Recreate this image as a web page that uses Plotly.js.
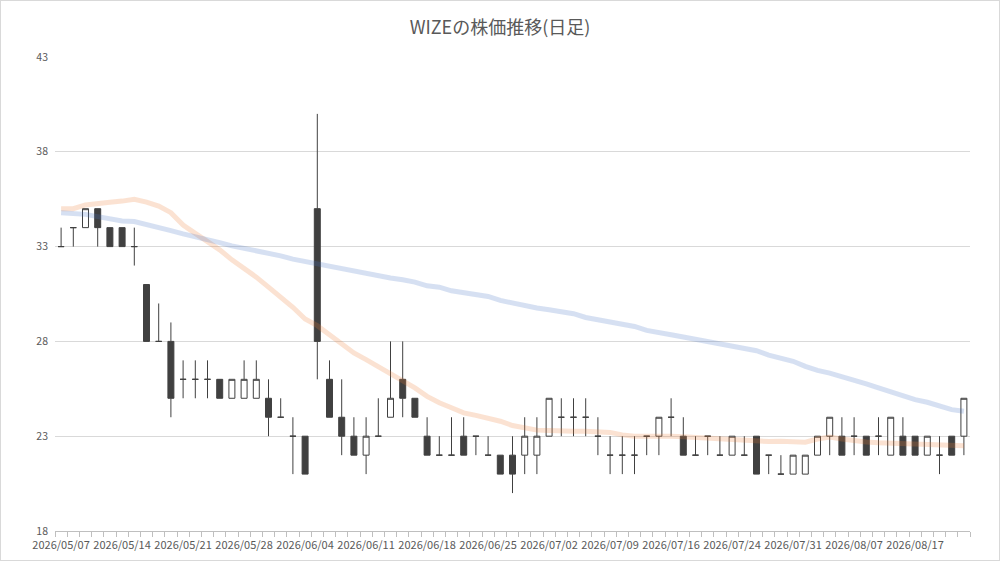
<!DOCTYPE html>
<html>
<head>
<meta charset="utf-8">
<script src="https://cdn.plot.ly/plotly-3.0.1.min.js"></script>
<style>
  html, body { margin: 0; padding: 0; background: #fff; }
  #chart { width: 998px; height: 559px; border: 1px solid #d9d9d9; }
</style>
</head>
<body>
<div id="chart"></div>
<script>
// trading days (category axis)
var dates = [
  '2026/05/07','2026/05/08','2026/05/11','2026/05/12','2026/05/13',
  '2026/05/14','2026/05/15','2026/05/18','2026/05/19','2026/05/20',
  '2026/05/21','2026/05/22','2026/05/25','2026/05/26','2026/05/27',
  '2026/05/28','2026/05/29','2026/06/01','2026/06/02','2026/06/03',
  '2026/06/04','2026/06/05','2026/06/08','2026/06/09','2026/06/10',
  '2026/06/11','2026/06/12','2026/06/15','2026/06/16','2026/06/17',
  '2026/06/18','2026/06/19','2026/06/22','2026/06/23','2026/06/24',
  '2026/06/25','2026/06/26','2026/06/29','2026/06/30','2026/07/01',
  '2026/07/02','2026/07/03','2026/07/06','2026/07/07','2026/07/08',
  '2026/07/09','2026/07/10','2026/07/13','2026/07/14','2026/07/15',
  '2026/07/16','2026/07/17','2026/07/21','2026/07/22','2026/07/23',
  '2026/07/24','2026/07/27','2026/07/28','2026/07/29','2026/07/30',
  '2026/07/31','2026/08/03','2026/08/04','2026/08/05','2026/08/06',
  '2026/08/07','2026/08/10','2026/08/12','2026/08/13','2026/08/14',
  '2026/08/17','2026/08/18','2026/08/19','2026/08/20','2026/08/21'
];

var open = [
  33,34,34,35,34, 34,33,31,28,28, 26,26,26,26,25, 25,25,25,24,23,
  23,35,26,24,23, 22,23,24,26,25, 23,22,22,23,23, 22,22,22,22,22,
  23,24,24,24,23, 22,22,22,23,23, 24,23,22,23,22, 22,22,23,22,21,
  21,21,22,23,23, 23,23,23,22,23, 23,22,22,23,23
];
var high = [
  34,34,35,35,34, 34,34,31,30,29, 27,27,27,26,26, 27,27,26,25,24,
  23,40,27,26,24, 24,25,28,28,25, 24,23,24,24,23, 23,22,23,24,24,
  25,25,25,25,24, 23,23,23,23,24, 25,24,23,23,23, 23,23,23,22,22,
  22,22,23,24,24, 24,23,24,24,24, 23,23,23,23,25
];
var low = [
  33,33,34,33,33, 33,32,28,28,24, 25,25,25,25,25, 25,25,23,24,21,
  21,26,24,22,22, 21,23,24,24,24, 22,22,22,22,22, 22,21,20,21,21,
  23,23,23,23,22, 21,21,21,22,22, 23,22,22,22,22, 22,22,21,21,21,
  21,21,22,22,22, 22,22,22,22,22, 22,22,21,22,22
];
var close = [
  33,34,35,34,33, 33,33,28,28,25, 26,26,26,25,26, 26,26,24,24,23,
  21,28,24,23,22, 23,23,25,25,24, 22,22,22,22,23, 22,21,21,23,23,
  25,24,24,24,23, 22,22,22,23,24, 24,22,22,23,22, 23,22,21,22,21,
  22,22,23,24,22, 23,22,23,24,22, 22,23,22,22,25
];

// moving averages
var maShort = [
  35.0,35.0,35.2,35.3,35.34, 35.4,35.5,35.35,35.14,34.79,
  34.14,33.7,33.3,32.83,32.3, 31.86,31.39,30.86,30.37,29.8,
  29.18,28.83,28.35,27.88,27.39, 27.04,26.68,26.3,25.9,25.55,
  25.1,24.76,24.5,24.23,24.1, 23.97,23.79,23.56,23.44,23.32,
  23.3,23.26,23.26,23.26,23.26, 23.2,23.07,23.0,23.0,23.02,
  23.0,22.97,22.93,22.88,22.83, 22.8,22.8,22.75,22.72,22.74,
  22.7,22.68,22.85,22.95,22.85, 22.75,22.7,22.65,22.62,22.6,
  22.58,22.56,22.55,22.52,22.5
];
var maLong = [
  34.79,34.75,34.7,34.58,34.44, 34.35,34.32,34.14,34.0,33.84,
  33.67,33.53,33.39,33.21,33.04, 32.91,32.83,32.68,32.51,32.34,
  32.21,32.12,31.95,31.83,31.72, 31.55,31.46,31.34,31.25,31.13,
  30.93,30.86,30.67,30.55,30.46, 30.37,30.16,30.02,29.88,29.76,
  29.67,29.58,29.46,29.26,29.14, 29.02,28.91,28.79,28.58,28.44,
  28.35,28.23,28.12,27.97,27.86, 27.77,27.65,27.51,27.28,27.12,
  26.95,26.68,26.47,26.33,26.16, 25.98,25.76,25.55,25.32,25.11,
  24.93,24.79,24.58,24.4,24.32
];

var yTicks = [18, 23, 28, 33, 38, 43];

var tickText = dates.map(function (d, i) { return i % 5 === 0 ? d : ''; });

var candles = {
  type: 'candlestick',
  x: dates,
  open: open,
  high: high,
  low: low,
  close: close,
  increasing: { line: { color: '#404040', width: 1 }, fillcolor: '#ffffff' },
  decreasing: { line: { color: '#404040', width: 1 }, fillcolor: '#404040' },
  whiskerwidth: 0,
  hoverinfo: 'skip',
  showlegend: false
};

var lineShort = {
  type: 'scatter',
  mode: 'lines',
  x: dates,
  y: maShort,
  line: { color: 'rgba(237,125,49,0.22)', width: 5 },
  hoverinfo: 'skip',
  showlegend: false
};

var lineLong = {
  type: 'scatter',
  mode: 'lines',
  x: dates,
  y: maLong,
  line: { color: 'rgba(68,114,196,0.22)', width: 5 },
  hoverinfo: 'skip',
  showlegend: false
};

var layout = {
  width: 998,
  height: 559,
  margin: { l: 54, r: 29, t: 56, b: 29 },
  paper_bgcolor: '#ffffff',
  plot_bgcolor: '#ffffff',
  font: { family: '"Noto Sans CJK JP", "Noto Sans", sans-serif', color: '#595959' },
  title: {
    text: 'WIZEの株価推移(日足)',
    font: { size: 18, color: '#595959' },
    x: 0.5,
    xanchor: 'center',
    y: 0.953,
    yanchor: 'middle'
  },
  xaxis: {
    type: 'category',
    rangeslider: { visible: false },
    tickvals: dates,
    ticktext: tickText,
    tickson: 'boundaries',
    ticks: 'outside',
    ticklen: 5,
    tickcolor: '#bfbfbf',
    ticklabelstandoff: 4,
    showgrid: false,
    showline: true,
    linecolor: '#bfbfbf',
    tickangle: 0,
    tickfont: { size: 11, color: '#595959' },
    fixedrange: true
  },
  yaxis: {
    range: [18, 43],
    tickvals: yTicks,
    showgrid: true,
    gridcolor: '#d9d9d9',
    zeroline: false,
    showline: false,
    ticks: '',
    ticklabelstandoff: 6,
    tickfont: { size: 10.5, color: '#595959' },
    fixedrange: true
  },
  showlegend: false
};

Plotly.newPlot('chart', [candles, lineShort, lineLong], layout, { displayModeBar: false, staticPlot: true });
</script>
</body>
</html>
